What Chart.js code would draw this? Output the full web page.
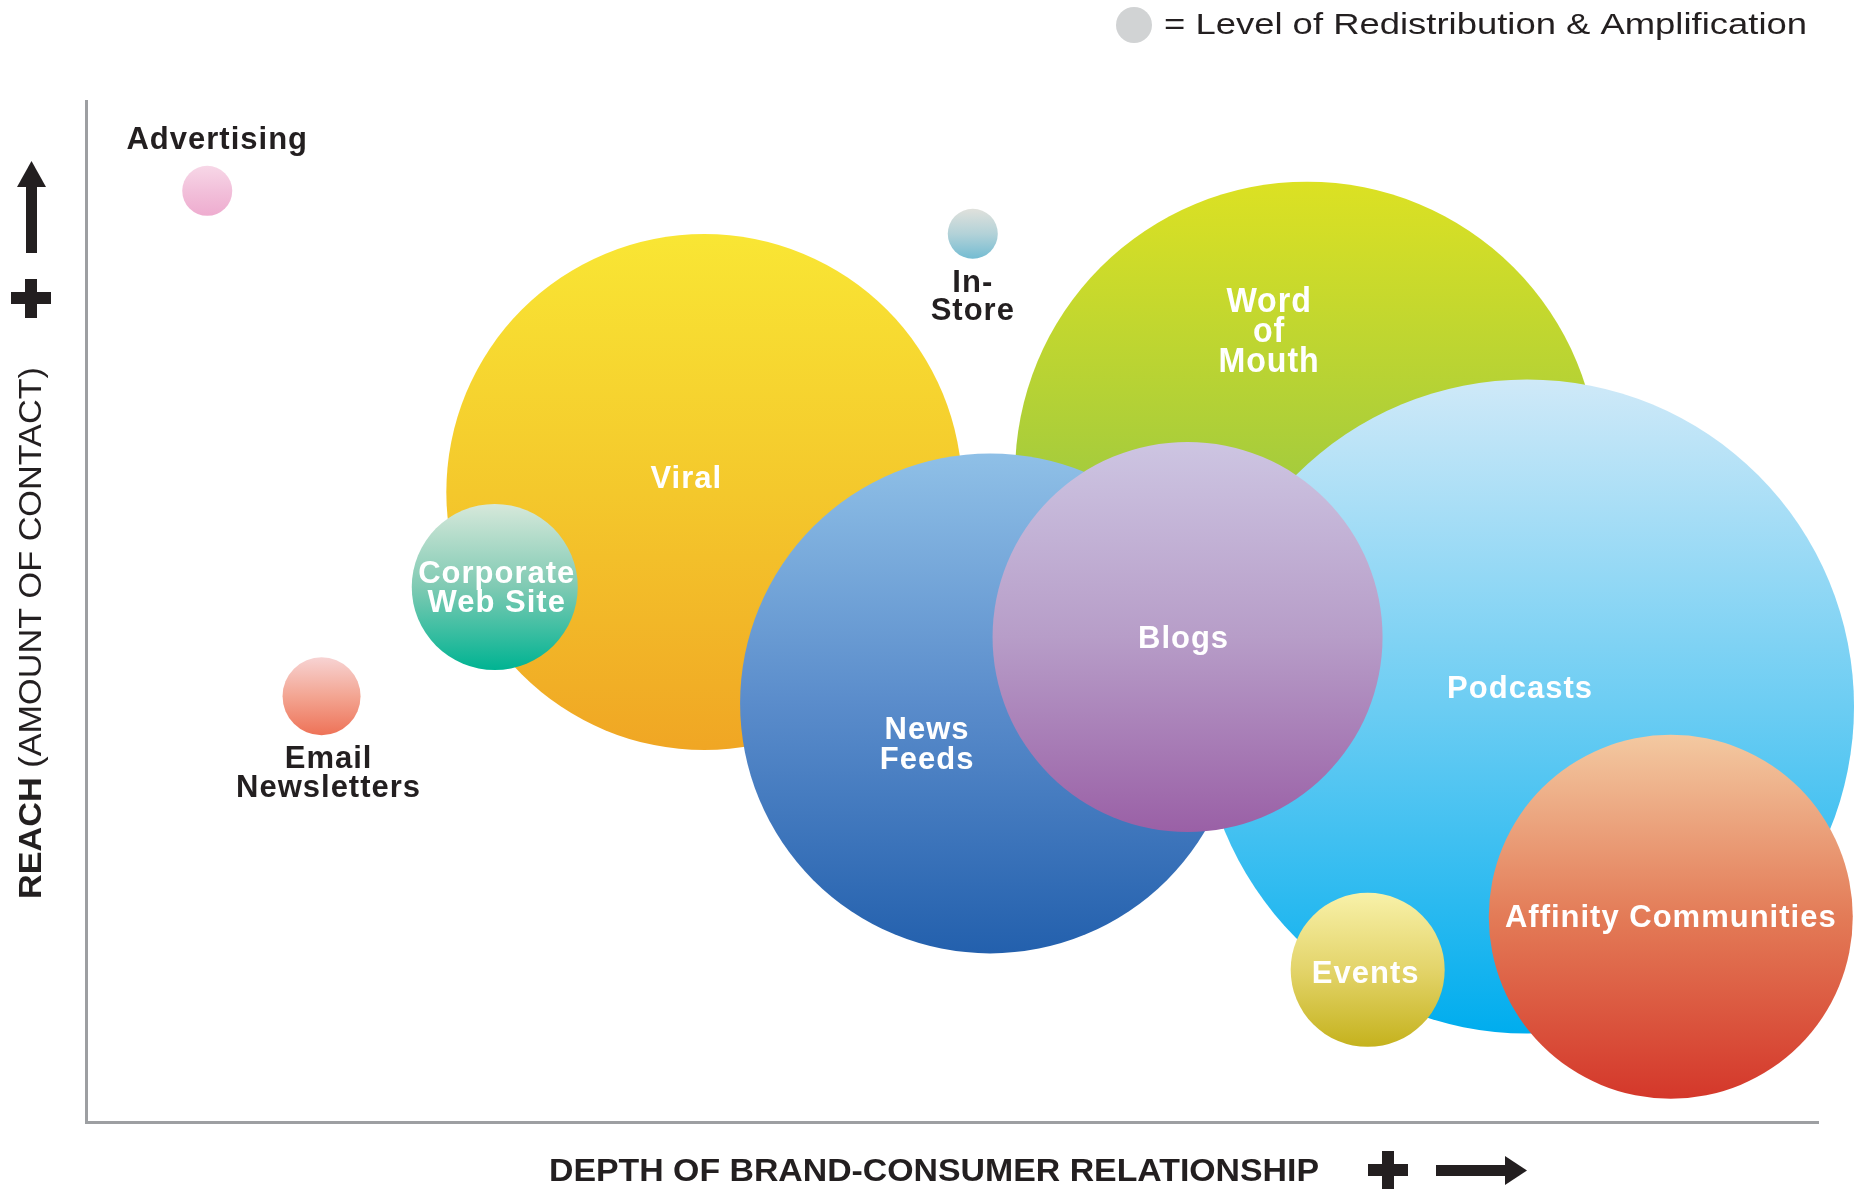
<!DOCTYPE html>
<html>
<head>
<meta charset="utf-8">
<script src="https://cdn.jsdelivr.net/npm/chart.js@4.4.1/dist/chart.umd.min.js"></script>
<style>
  html, body { margin: 0; padding: 0; background: #fff; }
  #wrap { width: 1868px; height: 1189px; position: relative; }
</style>
</head>
<body>
<div id="wrap"><canvas id="bubbles"></canvas></div>
<script>
// channels, listed back to front (later ones are drawn on top)
const channels = ['Viral', 'Corporate\nWeb Site', 'Advertising', 'Email\nNewsletters', 'In-\nStore',
  'Word\nof\nMouth', 'News\nFeeds', 'Podcasts', 'Blogs', 'Events', 'Affinity Communities'];
// depth of brand-consumer relationship (x, 0-100)
const depth = [35.7, 23.6, 7.0, 13.6, 51.2, 70.5, 52.2, 83.2, 63.6, 74.0, 91.5];
// reach / amount of contact (y, 0-100)
const reach = [61.7, 52.4, 91.2, 41.7, 87.0, 63.5, 41.0, 40.7, 47.5, 14.9, 20.1];
// level of redistribution & amplification (bubble radius)
const amplification = [258, 83, 25, 39, 25, 292, 250, 327, 195, 77, 182];

// gradient stops, top -> bottom
const bubbleColors = [
  ['#f9e634', '#f4c82c', '#f0a624'],
  ['#d6e8da', '#7fcab3', '#00b392'],
  ['#f7d7e7', '#f2c0da', '#eeaccf'],
  ['#f7d3d3', '#f3a592', '#ee7257'],
  ['#e0e1dc', '#b3d2d8', '#74bcd2'],
  ['#dce123', '#a6cc3c', '#6fb846'],
  ['#8fc0e7', '#5a8ccb', '#2360ad'],
  ['#cfe9f8', '#6ccdf3', '#00adee'],
  ['#cdc5e2', '#b79dc8', '#9a60a6'],
  ['#f8f1a9', '#e3d46a', '#c5b21d'],
  ['#f3c9a1', '#e37b57', '#d4372a']
];

// label layout: offset from bubble centre, colour, font size, line height, x-squeeze
const labelStyle = [
  { dx: -18, dy: -13, color: '#fff', size: 31, lh: 29 },
  { dx: 2, dy: 2, color: '#fff', size: 31, lh: 29 },
  { dx: 10, dy: -50, color: '#231f20', size: 31, lh: 29 },
  { dx: 7, dy: 78, color: '#231f20', size: 31, lh: 29 },
  { dx: 0, dy: 64, color: '#231f20', size: 31, lh: 28 },
  { dx: -38, dy: -141, color: '#fff', size: 35, lh: 30, sx: 0.92 },
  { dx: -63, dy: 42, color: '#fff', size: 31, lh: 30 },
  { dx: -7, dy: -17, color: '#fff', size: 31, lh: 29 },
  { dx: -4, dy: 2, color: '#fff', size: 31, lh: 29 },
  { dx: -2, dy: 5, color: '#fff', size: 31, lh: 29 },
  { dx: 0, dy: 2, color: '#fff', size: 31, lh: 29 }
];

const ink = '#231f20';
const sans = '"Liberation Sans", Arial, Helvetica, sans-serif';

function gradientFor(c) {
  const chart = c.chart;
  const i = c.dataIndex;
  if (!chart.chartArea || i === undefined) return bubbleColors[0][0];
  const py = chart.scales.y.getPixelForValue(reach[i]);
  const r = amplification[i];
  const g = chart.ctx.createLinearGradient(0, py - r, 0, py + r);
  const stops = bubbleColors[i];
  stops.forEach((col, k) => g.addColorStop(k / (stops.length - 1), col));
  return g;
}

// text squeezed/stretched to a given width
function fitText(ctx, text, x, y, width) {
  const w = ctx.measureText(text).width;
  ctx.save();
  ctx.translate(x, y);
  ctx.scale(width / w, 1);
  ctx.textAlign = 'left';
  ctx.fillText(text, 0, 0);
  ctx.restore();
}

const bubbleLabels = {
  id: 'bubbleLabels',
  afterDatasetsDraw(chart) {
    const ctx = chart.ctx;
    const pts = chart.getDatasetMeta(0).data;
    pts.forEach((pt, i) => {
      const st = labelStyle[i];
      const lines = channels[i].split('\n');
      ctx.save();
      ctx.fillStyle = st.color;
      ctx.font = 'bold ' + st.size + 'px ' + sans;
      ctx.letterSpacing = '1px';
      ctx.textAlign = 'center';
      ctx.textBaseline = 'middle';
      lines.forEach((ln, k) => {
        const y = pt.y + st.dy + (k - (lines.length - 1) / 2) * st.lh;
        ctx.save();
        ctx.translate(pt.x + st.dx, y);
        ctx.scale(st.sx || 1, 1);
        ctx.fillText(ln, 0, 0);
        ctx.restore();
      });
      ctx.restore();
    });
  }
};

const decorations = {
  id: 'decorations',
  afterDraw(chart) {
    const ctx = chart.ctx;
    ctx.save();
    ctx.textBaseline = 'middle';

    // legend
    ctx.fillStyle = '#d1d3d4';
    ctx.beginPath();
    ctx.arc(1134, 25, 18, 0, Math.PI * 2);
    ctx.fill();
    ctx.fillStyle = ink;
    ctx.font = '30px ' + sans;
    fitText(ctx, '= Level of Redistribution & Amplification', 1164, 26, 643);

    // x axis title + plus + arrow
    ctx.font = 'bold 31px ' + sans;
    fitText(ctx, 'DEPTH OF BRAND-CONSUMER RELATIONSHIP', 549, 1172, 770);
    ctx.fillRect(1368, 1164, 40, 12);
    ctx.fillRect(1382, 1151, 12, 38);
    ctx.fillRect(1436, 1165, 72, 11);
    ctx.beginPath();
    ctx.moveTo(1505, 1156); ctx.lineTo(1527, 1170.5); ctx.lineTo(1505, 1185);
    ctx.closePath(); ctx.fill();

    // y axis title (bold + regular), rotated
    ctx.save();
    ctx.translate(32, 899);
    ctx.rotate(-Math.PI / 2);
    ctx.font = 'bold 31px ' + sans;
    const a = 'REACH ';
    const wa = ctx.measureText(a).width;
    ctx.font = '31px ' + sans;
    const b = '(AMOUNT OF CONTACT)';
    const wb = ctx.measureText(b).width;
    const k = 532 / (wa + wb);
    ctx.scale(k, 1);
    ctx.font = 'bold 31px ' + sans;
    ctx.fillText(a, 0, 0);
    ctx.font = '31px ' + sans;
    ctx.fillText(b, wa, 0);
    ctx.restore();

    // up arrow + plus
    ctx.fillRect(26, 183, 11, 70);
    ctx.beginPath();
    ctx.moveTo(17, 187); ctx.lineTo(31.5, 161); ctx.lineTo(46, 187);
    ctx.closePath(); ctx.fill();
    ctx.fillRect(11, 292, 40, 12);
    ctx.fillRect(25, 279, 12, 39);
    ctx.restore();
  }
};

const axisLine = { color: '#9d9fa2', width: 3 };

new Chart(document.getElementById('bubbles'), {
  type: 'bubble',
  data: {
    labels: channels,
    datasets: [{
      data: channels.map((c, i) => ({ x: depth[i], y: reach[i], r: amplification[i] })),
      backgroundColor: gradientFor,
      borderWidth: 0,
      hoverBorderWidth: 0,
      hoverRadius: 0,
      clip: false
    }]
  },
  options: {
    responsive: true,
    maintainAspectRatio: false,
    devicePixelRatio: 1,
    animation: false,
    events: [],
    layout: { autoPadding: false, padding: { left: 86, top: 101, right: 50, bottom: 67 } },
    plugins: { legend: { display: false }, tooltip: { enabled: false } },
    scales: {
      x: {
        min: 0, max: 100,
        grid: { display: false, drawTicks: false },
        ticks: { display: false },
        border: axisLine
      },
      y: {
        min: 0, max: 100,
        grid: { display: false, drawTicks: false },
        ticks: { display: false },
        border: axisLine
      }
    }
  },
  plugins: [bubbleLabels, decorations]
});
</script>
</body>
</html>
